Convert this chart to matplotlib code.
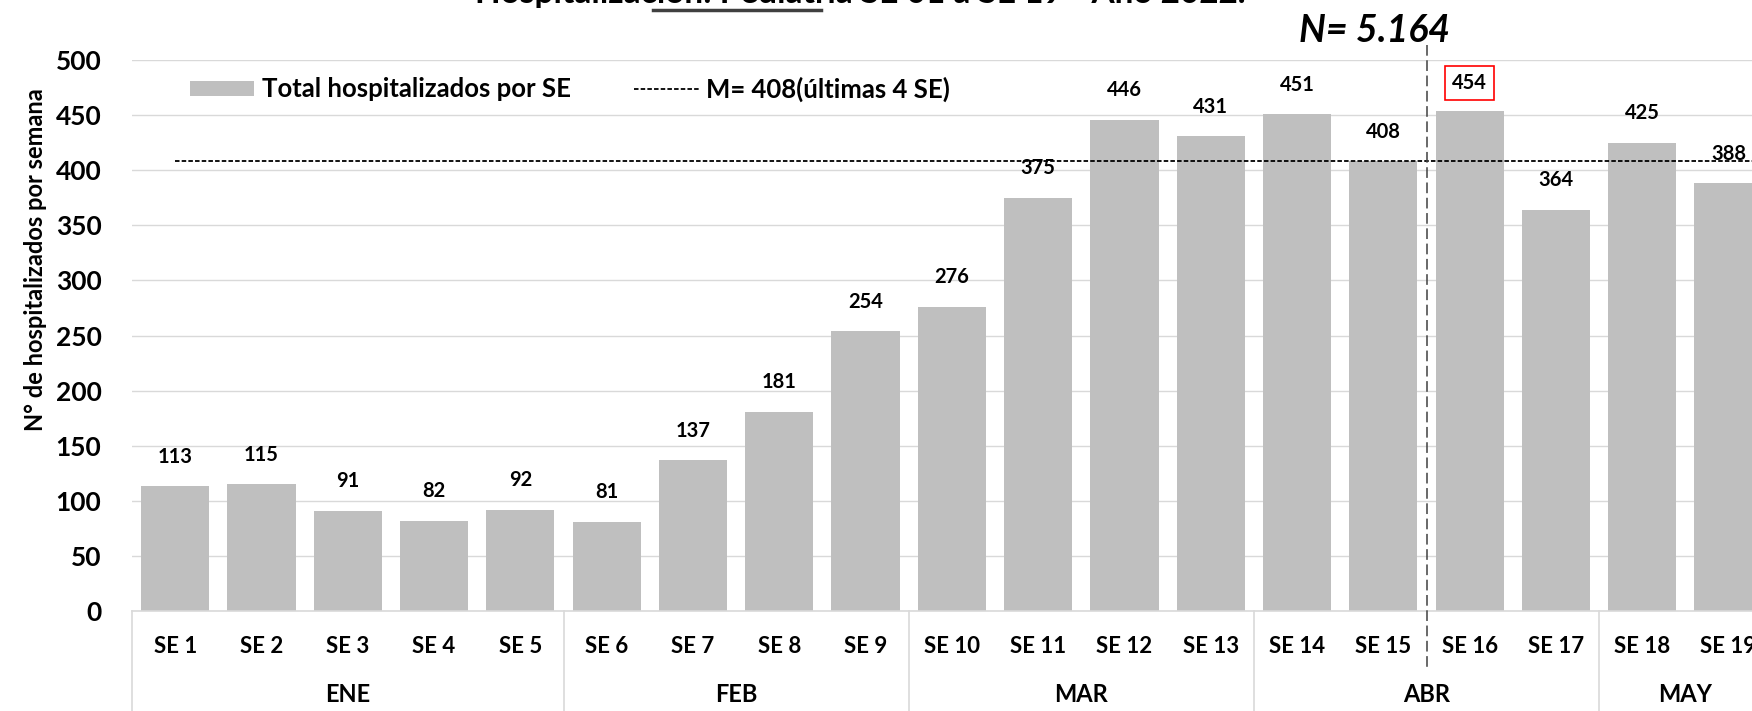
import numpy as np
import matplotlib
matplotlib.use("Agg")
import matplotlib.pyplot as plt
from matplotlib.patches import Patch
from matplotlib.lines import Line2D
import matplotlib.transforms as mtransforms

# ---- data ----
weeks = [f"SE {i}" for i in range(1, 20)]
values = [113, 115, 91, 82, 92, 81, 137, 181, 254, 276, 375, 446, 431, 451, 408, 454, 364, 425, 388]
months = ["ENE", "FEB", "MAR", "ABR", "MAY"]
month_sizes = [5, 4, 4, 4, 2]
mean_value = 408
highlight_week = "SE 16"
total_n = "N= 5.164"
yticks = [0, 50, 100, 150, 200, 250, 300, 350, 400, 450, 500]

FONT = ["Lato", "DejaVu Sans"]
plt.rcParams["font.family"] = FONT

W, H = 1752, 711
fig = plt.figure(figsize=(W / 100, H / 100), dpi=100)
ax = fig.add_axes([132 / W, 1 - 611 / H, 19 * 86.3 / W, (611 - 60) / H])

x = np.arange(len(weeks))
ax.bar(x, values, width=0.79, color="#bfbfbf", zorder=2, label="Total hospitalizados por SE")
ax.plot([x[0], x[-1] + 0.5], [mean_value, mean_value], color="black", lw=1.3,
        linestyle=(0, (2.5, 1.2)), zorder=3)

ax.set_xlim(-0.5, len(weeks) - 0.5)
ax.set_ylim(0, 500)
ax.set_yticks(yticks)
ax.set_yticklabels([str(t) for t in yticks], fontsize=19, fontweight="bold")
ax.tick_params(axis="y", length=0, pad=22)
ax.set_xticks([])
ax.grid(axis="y", color="#d9d9d9", lw=1, zorder=0)
ax.set_axisbelow(True)
for s in ["left", "right", "top"]:
    ax.spines[s].set_visible(False)
ax.spines["bottom"].set_color("#d9d9d9")
ax.spines["bottom"].set_linewidth(1.2)

# value labels
for xi, v, w in zip(x, values, weeks):
    if w == highlight_week:
        ax.annotate(str(v), (xi, v), xytext=(0, 13), textcoords="offset points",
                    ha="center", va="bottom", fontsize=14.5, fontweight="bold",
                    bbox=dict(boxstyle="square,pad=0.35", fc="white", ec="red", lw=1.2),
                    zorder=5)
    else:
        ax.annotate(str(v), (xi, v), xytext=(0, 14), textcoords="offset points",
                    ha="center", va="bottom", fontsize=14.5, fontweight="bold", zorder=5)

# category axis labels (two levels)
trans = mtransforms.blended_transform_factory(ax.transData, ax.transAxes)
for xi, w in zip(x, weeks):
    ax.text(xi, -0.064, w, transform=trans, ha="center", va="center",
            fontsize=16, fontweight="bold", clip_on=False)
start = 0
bounds = [-0.5]
for m, n in zip(months, month_sizes):
    center = start + (n - 1) / 2
    ax.text(center, -0.152, m, transform=trans, ha="center", va="center",
            fontsize=17, fontweight="bold", clip_on=False)
    start += n
    bounds.append(start - 0.5)
for b in bounds:
    ax.plot([b, b], [0, -0.25], transform=trans, color="#d9d9d9", lw=1.2, clip_on=False)

# vertical dashed separator between SE 15 and SE 16
sep = weeks.index(highlight_week) - 0.5
ax.plot([sep, sep], [1.027, -0.107], transform=trans, color="#404040", lw=1.1,
        linestyle=(0, (7, 3)), clip_on=False, zorder=4)
ax.text(sep - 0.6, 1.022, total_n, transform=trans, ha="center", va="bottom",
        fontsize=27, fontweight="bold", fontstyle="italic", clip_on=False)

ax.set_ylabel("N° de hospitalizados por semana", fontsize=17, fontweight="bold")
ax.yaxis.set_label_coords(-0.052, 0.637)

# legend
handles = [Patch(facecolor="#bfbfbf", edgecolor="none"),
           Line2D([0], [0], color="black", lw=1.3, linestyle=(0, (2.5, 1.2)))]
labels = ["Total hospitalizados por SE", f"M= {mean_value}(últimas 4 SE)"]
ax.legend(handles, labels, ncol=2, frameon=False, loc="center left",
          bbox_to_anchor=(190 / W, 1 - 89 / H), bbox_transform=fig.transFigure,
          prop=dict(family=FONT, weight="bold", size=18.5), handlelength=2.5,
          handleheight=0.55, handletextpad=0.3, columnspacing=2.47, borderpad=0,
          borderaxespad=0)

# clipped title at top (cut off in the original as well)
fig.text(860 / W, 1 - 3 / H, "Hospitalización: Pediatría SE 01 a SE 19 - Año 2022.",
         ha="center", va="baseline", fontsize=24, fontweight="bold")
fig.add_artist(Line2D([653 / W, 821 / W], [1 - 9.5 / H, 1 - 9.5 / H], color="#404040", lw=2.5,
                      transform=fig.transFigure))

fig.savefig("out.png", dpi=100)
